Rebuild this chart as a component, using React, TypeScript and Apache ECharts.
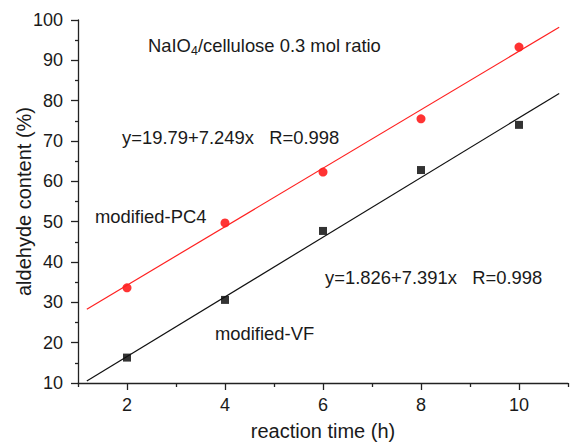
import React, { useEffect, useRef } from "react";
import * as echarts from "echarts";

const timeH = [2, 4, 6, 8, 10];
const pc4Values = [33.6, 49.7, 62.3, 75.5, 93.3];
const vfValues = [16.3, 30.6, 47.7, 62.8, 74.0];
const pc4Fit = [
  [1.18, 28.3],
  [10.82, 98.2],
];
const vfFit = [
  [1.18, 10.5],
  [10.82, 81.8],
];
const xMajorTicks = [2, 4, 6, 8, 10];
const xMinorTicks = [1, 3, 5, 7, 9, 11];

const FONT = "'Liberation Sans', Arial, Helvetica, sans-serif";
const TXT = "#1a1a1a";

export default function App() {
  const ref = useRef<HTMLDivElement>(null);
  useEffect(() => {
    document.body.style.margin = "0";
    if (!ref.current) return;
    const chart = echarts.init(ref.current, undefined, { renderer: "svg" });
    const axisLineStyle = { color: "#222", width: 1.3 };
    chart.setOption({
      animation: false,
      backgroundColor: "#fff",
      textStyle: { fontFamily: FONT },
      grid: { left: 78, right: 2, top: 20, bottom: 59, containLabel: false, outerBoundsMode: "none" },
      xAxis: [
        {
          type: "value",
          min: 1,
          max: 11,
          name: "reaction time (h)",
          nameLocation: "middle",
          nameGap: 38,
          nameMoveOverlap: false,
          nameTextStyle: { fontSize: 20, color: TXT, fontFamily: FONT },
          axisLine: { show: true, lineStyle: axisLineStyle },
          axisTick: { show: true, length: 7, lineStyle: axisLineStyle, customValues: xMajorTicks },
          axisLabel: { fontSize: 18, color: TXT, margin: 13, fontFamily: FONT, customValues: xMajorTicks },
          splitLine: { show: false },
        },
        {
          type: "value",
          min: 1,
          max: 11,
          position: "bottom",
          axisLine: { show: false },
          axisTick: { show: true, length: 4, lineStyle: axisLineStyle, customValues: xMinorTicks },
          axisLabel: { show: false },
          splitLine: { show: false },
        },
      ],
      yAxis: {
        type: "value",
        min: 10,
        max: 100,
        interval: 10,
        name: "aldehyde content (%)",
        nameLocation: "middle",
        nameGap: 44,
        nameMoveOverlap: false,
        nameTextStyle: { fontSize: 20, color: TXT, fontFamily: FONT },
        axisLine: { show: true, lineStyle: axisLineStyle },
        axisTick: { show: true, length: 7, lineStyle: axisLineStyle },
        minorTick: { show: true, splitNumber: 2, length: 3, lineStyle: axisLineStyle },
        axisLabel: { fontSize: 18, color: TXT, margin: 15, fontFamily: FONT },
        splitLine: { show: false },
      },
      series: [
        {
          type: "line",
          data: pc4Fit,
          showSymbol: false,
          symbol: "none",
          lineStyle: { color: "#ff2020", width: 1.2 },
          silent: true,
        },
        {
          type: "line",
          data: vfFit,
          showSymbol: false,
          symbol: "none",
          lineStyle: { color: "#111", width: 1.2 },
          silent: true,
        },
        {
          type: "scatter",
          data: timeH.map((t, i) => [t, pc4Values[i]]),
          symbol: "circle",
          symbolSize: 9,
          itemStyle: { color: "#ff0000" },
        },
        {
          type: "scatter",
          data: timeH.map((t, i) => [t, vfValues[i]]),
          symbol: "rect",
          symbolSize: 8,
          itemStyle: { color: "#000" },
        },
      ],
      graphic: [
        {
          type: "text",
          left: 148,
          top: 36,
          style: {
            text: "NaIO{sub|4}/cellulose 0.3 mol ratio",
            fontSize: 18.4,
            fontFamily: FONT,
            fill: TXT,
            rich: {
              sub: { fontSize: 12.5, fontFamily: FONT, fill: TXT, padding: [12, 0, 0, 0] },
            },
          },
        },
        {
          type: "text",
          x: 122,
          y: 137,
          style: { text: "y=19.79+7.249x   R=0.998", fontSize: 18.4, fontFamily: FONT, fill: TXT, verticalAlign: "middle" },
        },
        {
          type: "text",
          x: 95,
          y: 216,
          style: { text: "modified-PC4", fontSize: 18.4, fontFamily: FONT, fill: TXT, verticalAlign: "middle" },
        },
        {
          type: "text",
          x: 325,
          y: 277,
          style: { text: "y=1.826+7.391x   R=0.998", fontSize: 18.4, fontFamily: FONT, fill: TXT, verticalAlign: "middle" },
        },
        {
          type: "text",
          x: 215,
          y: 333,
          style: { text: "modified-VF", fontSize: 18.4, fontFamily: FONT, fill: TXT, verticalAlign: "middle" },
        },
      ],
    });
    return () => chart.dispose();
  }, []);
  return <div ref={ref} style={{ width: 570, height: 442 }} />;
}
